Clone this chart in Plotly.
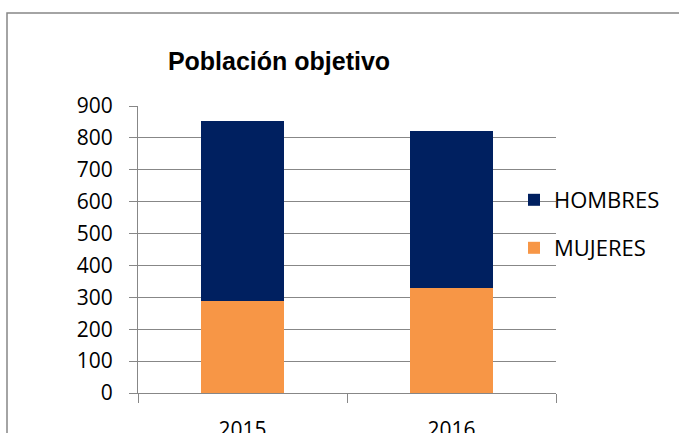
import plotly.graph_objects as go

years = ["2015", "2016"]
mujeres = [288, 328]
hombres = [565, 495]
y_ticks = [0, 100, 200, 300, 400, 500, 600, 700, 800, 900]

W, H = 679, 433
L, R, T, B = 138, 123, 106, 40
pw, ph = W - L - R, H - T - B

def px_x(x):
    return (x - L) / pw

def px_y(y):
    return (H - B - y) / ph

fig = go.Figure()
fig.add_trace(go.Bar(x=years, y=mujeres, name="MUJERES", marker=dict(color="#F79646", line=dict(width=0)),
                     legend="legend2", showlegend=True))
fig.add_trace(go.Bar(x=years, y=hombres, name="HOMBRES", marker=dict(color="#002060", line=dict(width=0)),
                     legend="legend", showlegend=True))

gray = "#878787"
fig.update_layout(
    width=W, height=H,
    margin=dict(l=L, r=R, t=T, b=B, autoexpand=False),
    showlegend=True,
    barmode="stack", bargap=0.6,
    paper_bgcolor="white", plot_bgcolor="white",
    font=dict(family="Open Sans", size=21, color="black"),
    title=dict(text="<b>Población objetivo</b>", x=px_x(279), xref="paper", xanchor="center",
               y=1 - 61 / H, yanchor="middle",
               font=dict(family="Liberation Sans", size=25, color="black")),
    xaxis=dict(showline=True, linecolor=gray, linewidth=1, ticks="outside", tickson="boundaries",
               ticklen=9, tickcolor=gray, showgrid=False, ticklabelstandoff=18, automargin=False),
    yaxis=dict(range=[0, 900], tickvals=y_ticks, showline=True, linecolor=gray, linewidth=1,
               ticks="outside", ticklen=8, tickcolor=gray, gridcolor=gray, gridwidth=1,
               ticklabelstandoff=12, zeroline=False, automargin=False),
    legend=dict(x=px_x(514), xanchor="left", y=px_y(200), yanchor="middle", bgcolor="rgba(0,0,0,0)",
                font=dict(family="Open Sans", size=22)),
    legend2=dict(x=px_x(514), xanchor="left", y=px_y(248), yanchor="middle", bgcolor="rgba(0,0,0,0)",
                 font=dict(family="Open Sans", size=22)),
    shapes=[dict(type="rect", xref="paper", yref="paper", x0=px_x(7), x1=px_x(W + 20),
                 y0=px_y(H + 20), y1=px_y(13), line=dict(color=gray, width=1.5), fillcolor="rgba(0,0,0,0)",
                 layer="below")],
)
fig.write_html("out.html", config={"displayModeBar": False},
               post_script="document.body.style.margin='0';")
